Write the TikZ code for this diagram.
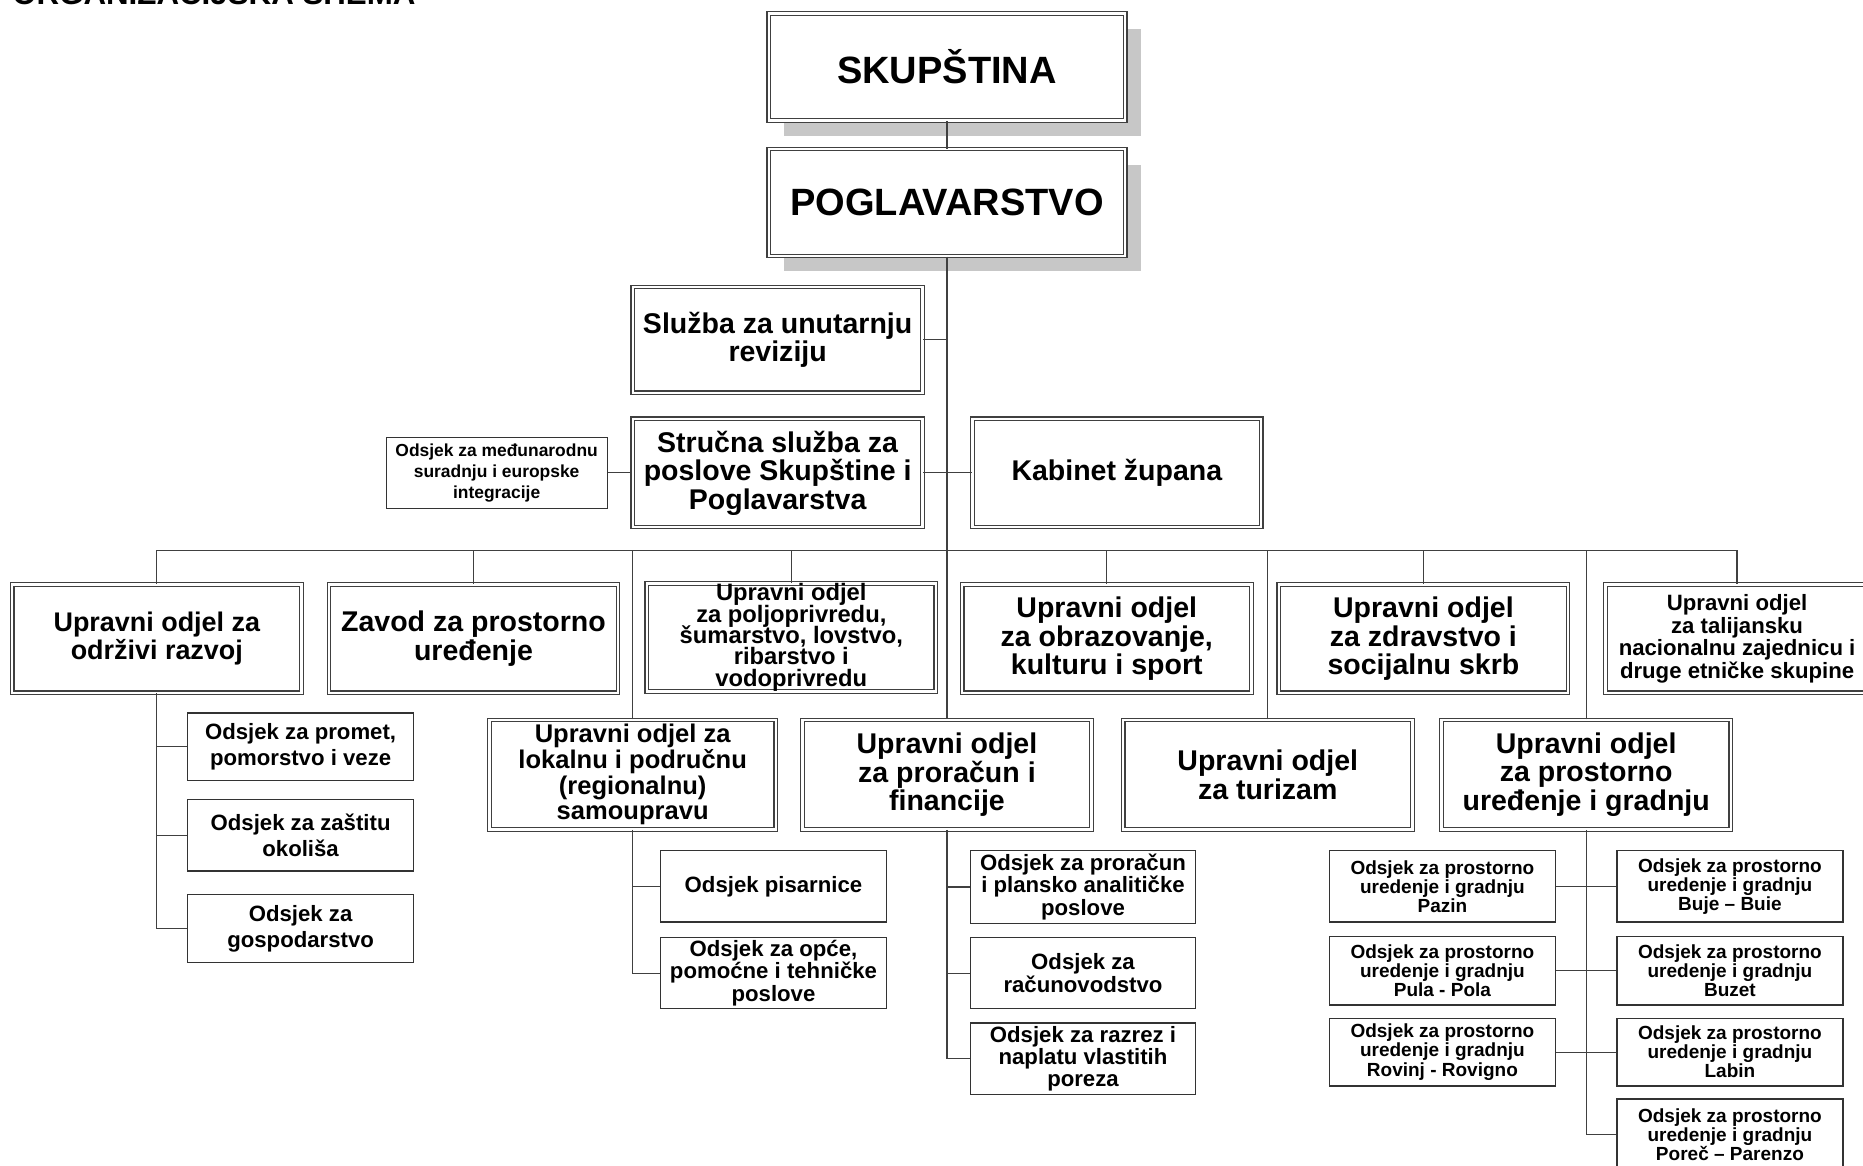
\documentclass[tikz,border=0pt]{standalone}
\usepackage{fontspec}
\setmainfont{Liberation Sans}
\usetikzlibrary{shadows}
\newcommand\tightlines{\setlength{\lineskiplimit}{-20pt}\setlength{\lineskip}{0pt}}
\begin{document}
\begin{tikzpicture}[x=0.6pt,y=-0.6pt,
  conn/.style={draw=black!75, line width=0.6pt},
  bigbox/.style={draw=black!75, line width=0.6pt, double, double distance=1.2pt,
    inner sep=0pt, align=center, fill=white,
    font=\bfseries\fontsize{14.4}{14.4}\selectfont},
  topbox/.style={bigbox, minimum width=180pt, minimum height=54pt,
    font=\bfseries\fontsize{19.2}{23}\selectfont,
    drop shadow={shadow xshift=7.8pt, shadow yshift=-7.8pt, fill=black!22, opacity=1}},
  midbox/.style={bigbox, minimum width=146pt, minimum height=54.6pt},
  subbox/.style={draw=black!80, line width=0.7pt, inner sep=0pt, align=center,
    fill=white, minimum width=113.4pt, minimum height=36pt,
    font=\bfseries\fontsize{11.2}{11.3}\selectfont},
  smallsub/.style={subbox, minimum width=114pt, minimum height=36pt,
    font=\bfseries\fontsize{9.6}{9.6}\selectfont}
]
\useasboundingbox (0,0) rectangle (1568,981);

% title (cut off at top, as in the reference)
\node[anchor=base west, inner sep=0pt, font=\bfseries\fontsize{15.8}{16}\selectfont] (title) at (10,4) {ORGANIZACIJSKA SHEMA};

% top
\node[topbox] (skup) at (797,56.5) {SKUPŠTINA};
\node[topbox] (pog) at (797,170.5) {POGLAVARSTVO};

% staff services
\node[midbox, minimum width=146.4pt, minimum height=53.4pt] (sluzba) at (654.5,286) {Služba za unutarnju\\reviziju};
\node[midbox, minimum width=146.4pt, minimum height=54.6pt] (strucna) at (654.5,398) {Stručna služba za\\poslove Skupštine i\\Poglavarstva};
\node[midbox, minimum width=145.8pt, minimum height=54.6pt] (kabinet) at (940,398) {Kabinet župana};
\node[subbox, minimum width=111.6pt, minimum height=36pt, line width=0.6pt,
  font=\bfseries\fontsize{8.8}{10.5}\selectfont] (medj) at (418,398) {Odsjek za međunarodnu\\suradnju i europske\\integracije};

% row 1
\node[midbox, font=\bfseries\fontsize{13.6}{14.4}\selectfont] (odrzivi) at (132,537.5) {Upravni odjel za\\održivi razvoj};
\node[midbox] (zavod) at (398.5,537.5) {Zavod za prostorno\\uređenje};
\node[midbox, font=\bfseries\fontsize{12}{10.8}\selectfont\tightlines] (poljo) at (666,536.5) {Upravni odjel\\za poljoprivredu,\\šumarstvo, lovstvo,\\ribarstvo i\\vodoprivredu};
\node[midbox] (obraz) at (931.5,537.5) {Upravni odjel\\za obrazovanje,\\kulturu i sport};
\node[midbox] (zdrav) at (1198,537.5) {Upravni odjel\\za zdravstvo i\\socijalnu skrb};
\node[midbox, minimum width=133pt, font=\bfseries\fontsize{11.2}{11.4}\selectfont] (talij) at (1462,537.5) {Upravni odjel\\za talijansku\\nacionalnu zajednicu i\\druge etničke skupine};

% row 2
\node[midbox, minimum width=144.6pt, minimum height=55.2pt, font=\bfseries\fontsize{12.9}{12.9}\selectfont] (lokalnu) at (532.5,652) {Upravni odjel za\\lokalnu i područnu\\(regionalnu)\\samoupravu};
\node[midbox, minimum height=55.2pt] (proracun) at (797,652) {Upravni odjel\\za proračun i\\financije};
\node[midbox, minimum height=55.2pt] (turizam) at (1067,652) {Upravni odjel\\za turizam};
\node[midbox, minimum height=55.2pt] (uredj) at (1335,652) {Upravni odjel\\za prostorno\\uređenje i gradnju};

% subsections: održivi razvoj
\node[subbox, minimum width=114pt, minimum height=34.2pt, font=\bfseries\fontsize{11.2}{13.2}\selectfont] (promet) at (253,628.5) {Odsjek za promet,\\pomorstvo i veze};
\node[subbox, minimum width=114pt, minimum height=36pt, font=\bfseries\fontsize{11.2}{13.2}\selectfont] (zastita) at (253,703) {Odsjek za zaštitu\\okoliša};
\node[subbox, minimum width=114pt, minimum height=34.2pt, font=\bfseries\fontsize{11.2}{13.2}\selectfont] (gosp) at (253,781.5) {Odsjek za\\gospodarstvo};

% subsections: lokalnu
\node[subbox, minimum width=114pt] (pisar) at (651,746) {Odsjek pisarnice};
\node[subbox, minimum width=114pt] (opce) at (651,819) {Odsjek za opće,\\pomoćne i tehničke\\poslove};

% subsections: proračun
\node[subbox, minimum height=36.6pt] (prorac2) at (911.5,746.5) {Odsjek za proračun\\i plansko analitičke\\poslove};
\node[subbox] (racun) at (911.5,819) {Odsjek za\\računovodstvo};
\node[subbox] (razrez) at (911.5,891) {Odsjek za razrez i\\naplatu vlastitih\\poreza};

% subsections: prostorno uređenje
\node[smallsub] (pazin) at (1214,746) {Odsjek za prostorno\\uredenje i gradnju\\Pazin};
\node[smallsub, minimum height=34.8pt] (pula) at (1214,817) {Odsjek za prostorno\\uredenje i gradnju\\Pula - Pola};
\node[smallsub, minimum height=34.2pt] (rovinj) at (1214,885.5) {Odsjek za prostorno\\uredenje i gradnju\\Rovinj - Rovigno};
\node[smallsub] (buje) at (1456,746) {Odsjek za prostorno\\uredenje i gradnju\\Buje – Buie};
\node[smallsub, minimum height=34.8pt] (buzet) at (1456,817) {Odsjek za prostorno\\uredenje i gradnju\\Buzet};
\node[smallsub, minimum height=34.2pt] (labin) at (1456,885.5) {Odsjek za prostorno\\uredenje i gradnju\\Labin};
\node[smallsub] (porec) at (1456,955) {Odsjek za prostorno\\uredenje i gradnju\\Poreč – Parenzo};

% connectors
\coordinate (busy) at (0,463);
\draw[conn] (skup.south) -- (pog.north);
\draw[conn] (pog.south) -- (proracun.north);
\draw[conn] (sluzba.east) -- (sluzba.east -| pog.south);
\draw[conn] (strucna.east) -- (kabinet.west);
\draw[conn] (medj.east) -- (strucna.west);
\draw[conn] (odrzivi.north) -- (odrzivi.north |- busy) -- (talij.north |- busy) -- (talij.north);
\foreach \n in {zavod,poljo,obraz,zdrav,lokalnu,turizam,uredj}
  \draw[conn] (\n.north) -- (\n.north |- busy);

\draw[conn] (odrzivi.south) |- (gosp.west);
\draw[conn] (promet.west) -- (promet.west -| odrzivi.south);
\draw[conn] (zastita.west) -- (zastita.west -| odrzivi.south);

\draw[conn] (lokalnu.south) |- (opce.west);
\draw[conn] (pisar.west) -- (pisar.west -| lokalnu.south);

\draw[conn] (proracun.south) |- (razrez.west);
\draw[conn] (prorac2.west) -- (prorac2.west -| proracun.south);
\draw[conn] (racun.west) -- (racun.west -| proracun.south);

\draw[conn] (uredj.south) |- (porec.west);
\draw[conn] (pazin.east) -- (buje.west);
\draw[conn] (pula.east) -- (buzet.west);
\draw[conn] (rovinj.east) -- (labin.west);
\end{tikzpicture}
\end{document}
